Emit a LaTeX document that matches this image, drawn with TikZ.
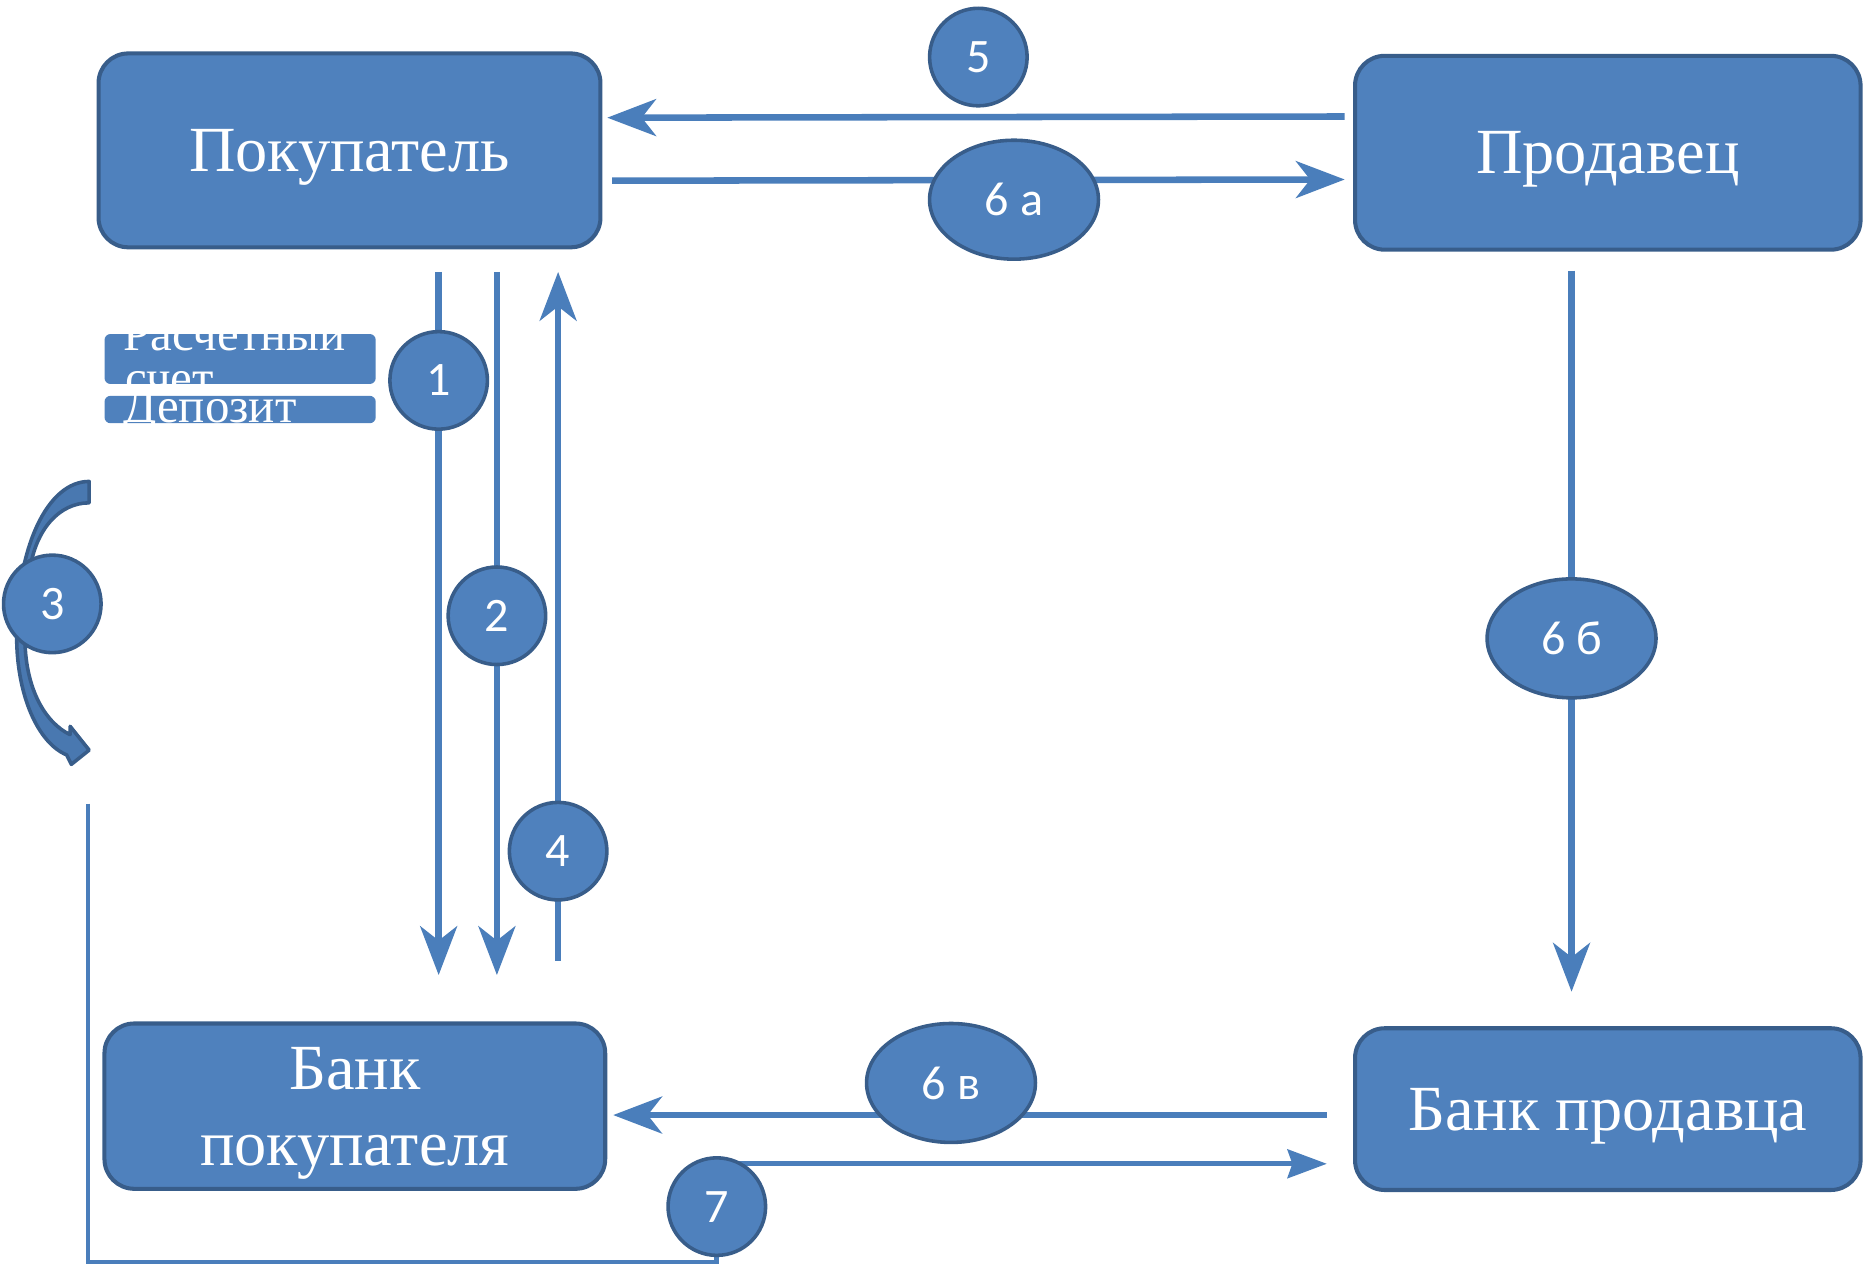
\documentclass[tikz,border=0pt]{standalone}
\usepackage{fontspec}
\setmainfont{Liberation Serif}
\newfontfamily\numfont{Carlito}
\usetikzlibrary{arrows.meta,shapes.geometric,calc,backgrounds}

\definecolor{boxfill}{HTML}{4F81BD}
\definecolor{boxedge}{HTML}{385D8A}
\definecolor{linecol}{HTML}{4A7EBB}

\begin{document}
\begin{tikzpicture}[x=0.01cm, y=-0.01cm,
  party/.style={draw=boxedge, fill=boxfill, line width=0.034cm, rounded corners=0.25cm,
    text=white, text depth=0pt, align=center, inner sep=0pt,
    font=\fontsize{15.4}{18.2}\selectfont},
  tag/.style={fill=boxfill, rounded corners=0.05cm, minimum width=2.28cm, inner sep=0pt},
  tagtext/.style={text=white, inner sep=0pt, anchor=base west,
    font=\fontsize{11.7}{11.4}\selectfont},
  num/.style={circle, draw=boxedge, fill=boxfill, line width=0.03cm, minimum size=0.82cm,
    inner sep=0pt, text=white, font=\numfont\fontsize{11.5}{13}\selectfont},
  oval/.style={num, ellipse, minimum width=1.42cm, minimum height=1.0cm},
  flow/.style={draw=linecol, line width=0.055cm,
    -{Stealth[length=0.41cm, width=0.31cm, inset=0.12cm]}},
  link/.style={draw=linecol, line width=0.04cm}]
\useasboundingbox (0,0) rectangle (1568,1067);

% participants
\node[party, minimum width=4.22cm, minimum height=1.63cm] (buyer) at (294,126.5) {Покупатель};
\node[party, minimum width=4.25cm, minimum height=1.63cm] (seller) at (1352.5,128.5) {Продавец};
\node[party, minimum width=4.21cm, minimum height=1.39cm] (bbank) at (298.5,930.5) {Банк\\покупателя};
\node[party, minimum width=4.25cm, minimum height=1.36cm] (sbank) at (1352.5,933) {Банк продавца};

% accounts of the buyer
\node[tag, minimum height=0.42cm] (acct) at (202,302) {};
\node[tag, minimum height=0.23cm] (depo) at (202,344.5) {};
\node[tagtext] (acct1) at (103,295) {Расчетный};
\node[tagtext] (acct2) at (105,332) {счет};
\node[tagtext] (depo1) at (103,355) {Депозит};

% steps
\node[num] (n5) at (823,48) {5};
\node[oval] (n6a) at (853,168) {6 а};
\node[num] (n1) at (369,320) {1};
\node[num] (n2) at (418,518) {2};
\node[num] (n3) at (44,508) {3};
\node[num] (n4) at (469.5,716) {4};
\node[oval] (n6b) at (1322,537) {6 б};
\node[oval] (n6c) at (800,911) {6 в};
\node[num] (n7) at (603,1015) {7};

\coordinate (p3) at (74,676);

\begin{scope}[on background layer]
  \draw[flow] ($(seller.west)+(-7,-30.5)$) -- ($(buyer.east)+(4,-27.5)$);
  \draw[flow] ($(buyer.east)+(8,25.5)$) -- ($(seller.west)+(-7,22.5)$);
  \draw[flow, shorten <=0.19cm, shorten >=0.39cm] (n1 |- buyer.south) -- (n1 |- bbank.north);
  \draw[flow, shorten <=0.19cm, shorten >=0.39cm] (n2 |- buyer.south) -- (n2 |- bbank.north);
  \draw[flow, shorten <=0.51cm, shorten >=0.19cm] (n4 |- bbank.north) -- (n4 |- buyer.south);
  \draw[flow, shorten <=0.16cm, shorten >=0.29cm] (n6b |- seller.south) -- (n6b |- sbank.north);
  \draw[flow] ($(sbank.west)+(-22,5)$) -- ($(bbank.east)+(5,7.5)$);
  \draw[flow, line width=0.045cm, -{Stealth[length=0.33cm, width=0.24cm, inset=0.04cm]}]
    ($(n7)+(10,-36)$) -- ($(sbank.west)+(-22,46)$);
  \draw[link] (p3) |- ($(n7.south)+(0,4)$) -- (n7.south);
  % transfer between the accounts
  \filldraw[fill=boxfill!75!boxedge, draw=boxedge, line width=0.03cm, line join=round]
    (75,405) -- (75,423) .. controls (50,423) and (30,445) .. (25,480)
    -- (21,540) .. controls (22,580) and (38,608) .. (59,618)
    -- (59,611) -- (75,631) -- (60,643) -- (56,635)
    .. controls (32,625) and (14,585) .. (14,535)
    .. controls (14,460) and (40,405) .. (75,405) -- cycle;
\end{scope}
\end{tikzpicture}
\end{document}
